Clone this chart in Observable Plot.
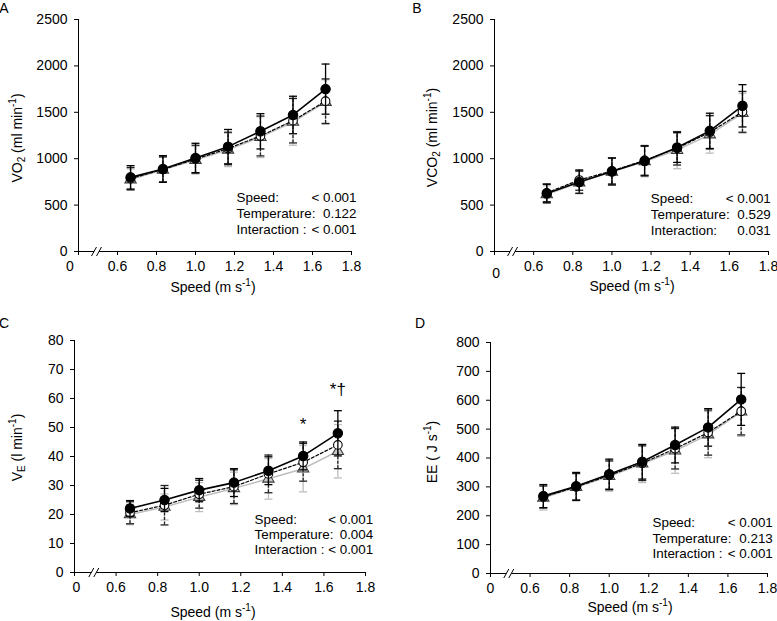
<!DOCTYPE html>
<html>
<head>
<meta charset="utf-8">
<script src="https://cdn.jsdelivr.net/npm/d3@7"></script>
<script src="https://cdn.jsdelivr.net/npm/@observablehq/plot@0.6"></script>
<style>
  html, body { margin: 0; padding: 0; background: #fff; }
  #wrap { position: relative; width: 777px; height: 621px; background: #fff; overflow: hidden; }
  .panel { position: absolute; }
</style>
</head>
<body>
<div id="wrap">
  <div class="panel" id="pA" style="left:0px;top:0px"></div>
  <div class="panel" id="pB" style="left:390px;top:0px"></div>
  <div class="panel" id="pC" style="left:0px;top:305px"></div>
  <div class="panel" id="pD" style="left:390px;top:305px"></div>
</div>
<script>
// ---------- data ----------
const speeds = [0.667, 0.833, 1.0, 1.167, 1.333, 1.5, 1.667];
const xTickValues = [0.4, 0.6, 0.8, 1.0, 1.2, 1.4, 1.6, 1.8];
const xDomain = [0.4, 1.8];
const axisBreak = [0.5];
const zeroLabel = ["0"];

// A: VO2 (ml/min)
const vo2Filled   = [799, 889, 1008, 1130, 1295, 1471, 1750];
const vo2FilledSD = [126, 144, 158, 185, 190, 202, 270];
const vo2Open     = [785, 885, 995, 1110, 1245, 1410, 1620];
const vo2OpenSD   = [120, 135, 150, 175, 215, 240, 240];
const vo2Tri      = [775, 880, 985, 1095, 1232, 1395, 1610];
const vo2TriSD    = [115, 135, 150, 180, 220, 250, 240];

// B: VCO2 (ml/min)
const vco2Filled   = [625, 748, 862, 975, 1120, 1300, 1570];
const vco2FilledSD = [100, 120, 145, 160, 160, 190, 228];
const vco2Open     = [632, 770, 868, 982, 1112, 1285, 1505];
const vco2OpenSD   = [95, 110, 140, 160, 180, 180, 220];
const vco2Tri      = [615, 742, 858, 970, 1092, 1260, 1490];
const vco2TriSD    = [95, 120, 145, 165, 200, 200, 215];

// C: VE (l/min)
const veFilled   = [22.1, 25.0, 28.4, 31.0, 35.1, 40.2, 48.0];
const veFilledSD = [2.7, 4.0, 4.0, 4.8, 4.8, 4.8, 7.8];
const veOpen     = [20.6, 23.2, 27.0, 29.6, 34.0, 38.0, 44.0];
const veOpenSD   = [3.8, 6.8, 4.8, 5.8, 6.5, 6.5, 8.2];
const veTri      = [20.0, 22.6, 26.0, 29.0, 32.3, 35.8, 41.8];
const veTriSD    = [3.5, 4.5, 5.0, 5.6, 7.0, 8.0, 9.2];
const sigSpeeds = [1.5, 1.667];
const sigValues = [51, 63];
const sigLabels = ["*", "*\u2020"];

// D: EE (J/s)
const eeFilled   = [268, 302, 344, 387, 445, 506, 603];
const eeFilledSD = [40, 48, 52, 60, 62, 65, 90];
const eeOpen     = [265, 300, 340, 382, 432, 488, 562];
const eeOpenSD   = [38, 46, 50, 60, 70, 78, 82];
const eeTri      = [262, 299, 337, 380, 425, 481, 560];
const eeTriSD    = [42, 48, 52, 65, 78, 80, 85];

// statistics text
const statLabels = ["Speed:", "Temperature:", "Interaction :"];
const statLabelsB = ["Speed:", "Temperature:", "Interaction:"];
const statsA = ["< 0.001", "0.122", "< 0.001"];
const statsB = ["< 0.001", "0.529", "0.031"];
const statsC = ["< 0.001", "0.004", "< 0.001"];
const statsD = ["< 0.001", "0.213", "< 0.001"];

// y axes
const yTicksGas = [0, 500, 1000, 1500, 2000, 2500];
const yTicksVE = [0, 10, 20, 30, 40, 50, 60, 70, 80];
const yTicksEE = [0, 100, 200, 300, 400, 500, 600, 700, 800];

// ---------- styling ----------
const FONT = "'Liberation Sans', Arial, Helvetica, sans-serif";
const seriesStyle = {
  triangle: {line: "#bdbdbd", lw: 1.5, dash: null, bar: "#bdbdbd", barDash: null, symbol: "triangle", fill: "#c8c8c8", stroke: "#3c3c3c", r: 4.2},
  open:     {line: "#000", lw: 1.2, dash: "3,2", bar: "#222", barDash: "3,1.5", symbol: "circle", fill: "#fff", stroke: "#000", r: 4.3},
  filled:   {line: "#000", lw: 1.6, dash: null, bar: "#000", barDash: null, symbol: "circle", fill: "#000", stroke: "#000", r: 4.7}
};
const capSymbol = {draw(ctx, size) { const r = Math.sqrt(size / Math.PI); ctx.moveTo(-r, 0); ctx.lineTo(r, 0); }};
const breakFill = {draw(ctx) { ctx.moveTo(-6.5, 4.5); ctx.lineTo(-1.5, -4.5); ctx.lineTo(3.5, -4.5); ctx.lineTo(-1.5, 4.5); ctx.closePath(); }};
const breakLines = {draw(ctx) { ctx.moveTo(-6.5, 4.5); ctx.lineTo(-1.5, -4.5); ctx.moveTo(-1.5, 4.5); ctx.lineTo(3.5, -4.5); }};

function rowsOf(vals, sds) { return speeds.map((x, i) => ({x, y: vals[i], sd: sds[i]})); }

function seriesMarks(rows, st) {
  return [
    Plot.ruleX(rows, {x: "x", y1: d => d.y - d.sd, y2: d => d.y + d.sd, stroke: st.bar, strokeWidth: 1.3, strokeDasharray: st.barDash}),
    Plot.dot(rows, {x: "x", y: d => d.y + d.sd, symbol: capSymbol, r: 4, stroke: st.bar, fill: "none", strokeWidth: 1.3}),
    Plot.dot(rows, {x: "x", y: d => d.y - d.sd, symbol: capSymbol, r: 4, stroke: st.bar, fill: "none", strokeWidth: 1.3}),
    Plot.line(rows, {x: "x", y: "y", stroke: st.line, strokeWidth: st.lw, strokeDasharray: st.dash}),
    Plot.dot(rows, {x: "x", y: "y", symbol: st.symbol, r: st.r, fill: st.fill, stroke: st.stroke, strokeWidth: 1.1})
  ];
}

function richText(g, parts, attrs) {
  const t = g.append("text");
  for (const [k, v] of Object.entries(attrs)) t.attr(k, v);
  let shift = 0;
  for (const [s, kind] of parts) {
    const ts = t.append("tspan").text(s);
    let target = 0;
    if (kind === "sub") { target = 4; ts.attr("font-size", "10px"); }
    if (kind === "sup") { target = -5.5; ts.attr("font-size", "10px"); }
    if (target !== shift) { ts.attr("dy", target - shift); shift = target; }
  }
  if (shift !== 0) t.append("tspan").attr("dy", -shift).text("");
  return t;
}

function makePanel(cfg) {
  const marks = [
    Plot.ruleX([xDomain[0]], {stroke: "#000", strokeWidth: 1}),
    Plot.ruleY([0], {stroke: "#000", strokeWidth: 1}),
    ...seriesMarks(rowsOf(cfg.tri, cfg.triSD), seriesStyle.triangle),
    ...seriesMarks(rowsOf(cfg.open, cfg.openSD), seriesStyle.open),
    ...seriesMarks(rowsOf(cfg.filled, cfg.filledSD), seriesStyle.filled),
    Plot.dot(axisBreak, {x: d => d, y: () => 0, symbol: breakFill, r: 1, fill: "#fff", stroke: "none"}),
    Plot.dot(axisBreak, {x: d => d, y: () => 0, symbol: breakLines, r: 1, fill: "none", stroke: "#000", strokeWidth: 1}),
    Plot.text(zeroLabel, {x: () => xDomain[0], y: () => 0, text: d => d, dx: cfg.zeroDx, dy: cfg.zeroDy, fontSize: 14, fontFamily: FONT, lineAnchor: "top"})
  ];
  cfg.labels.forEach((lab, i) => {
    marks.push(Plot.text([lab], {text: d => d, frameAnchor: "bottom-right", textAnchor: "start", dx: cfg.statLabelDx, dy: cfg.statDy[i], fontSize: 13.4, fontFamily: FONT}));
    marks.push(Plot.text([cfg.stats[i]], {text: d => d, frameAnchor: "bottom-right", textAnchor: "end", dx: cfg.statValueDx, dy: cfg.statDy[i], fontSize: 13.4, fontFamily: FONT}));
  });
  if (cfg.extra) marks.push(...cfg.extra);

  const svg = Plot.plot({
    width: cfg.width, height: cfg.height,
    marginLeft: cfg.ml, marginRight: cfg.mr, marginTop: cfg.mt, marginBottom: cfg.mb,
    style: {fontFamily: FONT, fontSize: "14px", background: "#fff", color: "#000", overflow: "visible"},
    x: {domain: xDomain, ticks: xTickValues, tickFormat: d => d < 0.5 ? "" : d.toFixed(1), tickSize: 4, tickPadding: 6, label: null},
    y: {domain: cfg.yDomain, ticks: cfg.yTicks, tickFormat: d => String(d), tickSize: 4, tickPadding: 7, label: null},
    marks
  });
  const root = d3.select(svg);
  root.selectAll("g").filter(function() {
    const a = this.getAttribute("aria-label") || "";
    return a.includes("axis");
  }).attr("font-size", 14).attr("font-family", FONT);
  root.selectAll("g[aria-label*='axis'] text").attr("font-size", 14).attr("font-family", FONT);

  const g = root.append("g").attr("font-family", FONT).attr("fill", "#000");
  g.append("text").attr("x", cfg.letter[0]).attr("y", cfg.letter[1]).attr("font-size", "14px").attr("dominant-baseline", "middle").text(cfg.letterText);
  richText(g, cfg.yTitle, {"transform": `translate(${cfg.yTitlePos[0]},${cfg.yTitlePos[1]}) rotate(-90)`, "text-anchor": "middle", "dominant-baseline": "middle", "font-size": "14px"});
  richText(g, [["Speed (m s"], ["-1", "sup"], [")"]], {"x": cfg.xTitlePos[0], "y": cfg.xTitlePos[1], "text-anchor": "middle", "dominant-baseline": "middle", "font-size": "14px"});
  document.getElementById(cfg.el).appendChild(svg);
}

makePanel({
  el: "pA", width: 390, height: 305, ml: 78, mr: 39, mt: 19, mb: 54,
  yDomain: [0, 2500], yTicks: yTicksGas,
  filled: vo2Filled, filledSD: vo2FilledSD, open: vo2Open, openSD: vo2OpenSD, tri: vo2Tri, triSD: vo2TriSD,
  labels: statLabels, stats: statsA, statLabelDx: -115, statValueDx: 5, statDy: [-49.7, -33.4, -17.4],
  zeroDx: -8.5, zeroDy: 10,
  letter: [4, 9], letterText: "A",
  yTitle: [["VO"], ["2", "sub"], [" (ml min"], ["-1", "sup"], [")"]], yTitlePos: [18, 138],
  xTitlePos: [213, 288]
});

makePanel({
  el: "pB", width: 387, height: 305, ml: 104, mr: 9, mt: 19, mb: 54,
  yDomain: [0, 2500], yTicks: yTicksGas,
  filled: vco2Filled, filledSD: vco2FilledSD, open: vco2Open, openSD: vco2OpenSD, tri: vco2Tri, triSD: vco2TriSD,
  labels: statLabelsB, stats: statsB, statLabelDx: -117.7, statValueDx: 2.3, statDy: [-49, -32.4, -16.4],
  zeroDx: 1.7, zeroDy: 17,
  letter: [27, 9], letterText: "B",
  yTitle: [["VCO"], ["2", "sub"], [" (ml min"], ["-1", "sup"], [")"]], yTitlePos: [43, 137.5],
  xTitlePos: [242, 287]
});

makePanel({
  el: "pC", width: 390, height: 316, ml: 74, mr: 25, mt: 35, mb: 49,
  yDomain: [0, 80], yTicks: yTicksVE,
  filled: veFilled, filledSD: veFilledSD, open: veOpen, openSD: veOpenSD, tri: veTri, triSD: veTriSD,
  labels: statLabels, stats: statsC, statLabelDx: -111, statValueDx: 7.7, statDy: [-48.4, -33.4, -18.4],
  zeroDx: 2, zeroDy: 10,
  letter: [4, 19], letterText: "C",
  yTitle: [["V"], ["E", "sub"], [" (l min"], ["-1", "sup"], [")"]], yTitlePos: [18, 142.5],
  xTitlePos: [213, 308],
  extra: [Plot.text(sigSpeeds.map((x, i) => ({x, y: sigValues[i], t: sigLabels[i]})), {x: "x", y: "y", text: "t", fontSize: 17, fontFamily: FONT})]
});

makePanel({
  el: "pD", width: 387, height: 316, ml: 100, mr: 10, mt: 37, mb: 48,
  yDomain: [0, 800], yTicks: yTicksEE,
  filled: eeFilled, filledSD: eeFilledSD, open: eeOpen, openSD: eeOpenSD, tri: eeTri, triSD: eeTriSD,
  labels: statLabels, stats: statsD, statLabelDx: -115, statValueDx: 5.3, statDy: [-46.6, -31, -15.6],
  zeroDx: 0, zeroDy: 10,
  letter: [30, 19], letterText: "D",
  yTitle: [["EE ( J s"], ["-1", "sup"], [")"]], yTitlePos: [43, 147],
  xTitlePos: [240, 303]
});
</script>
</body>
</html>
